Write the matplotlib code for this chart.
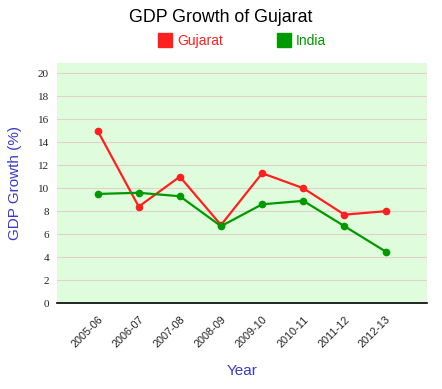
import numpy as np
import matplotlib
matplotlib.use('Agg')
import matplotlib.pyplot as plt
from matplotlib.patches import Rectangle

years = ['2005-06', '2006-07', '2007-08', '2008-09', '2009-10', '2010-11', '2011-12', '2012-13']
gujarat = [15.0, 8.4, 11.0, 6.8, 11.3, 10.0, 7.7, 8.0]
india = [9.5, 9.6, 9.3, 6.7, 8.6, 8.9, 6.7, 4.5]
yticks = list(range(0, 21, 2))

RED = '#ff1f1f'
GREEN = '#009900'
LABEL = '#3a3ac8'

fig = plt.figure(figsize=(4.42, 3.89), dpi=100)
ax = fig.add_axes([0.1296, 0.2203, 0.8358, 0.6185])
ax.set_facecolor('#dffcdc')

x = np.arange(len(years))
ax.plot(x, gujarat, color=RED, lw=1.6, marker='o', ms=4.5, zorder=3)
ax.plot(x, india, color=GREEN, lw=1.6, marker='o', ms=4.5, zorder=3)

ax.set_xlim(-0.98, 8.0)
ax.set_ylim(0, 20.9)
ax.set_yticks(yticks)
ax.set_yticklabels([str(v) for v in yticks], fontfamily='Liberation Serif', fontsize=8, color='#222222')
ax.set_xticks(x)
ax.set_xticklabels(years, rotation=45, ha='right', rotation_mode='anchor',
                   fontfamily='Liberation Sans', fontsize=7.8, color='#222222')
ax.tick_params(length=0, pad=6)
ax.tick_params(axis='x', pad=8)
ax.grid(axis='y', color='#e2d2cc', lw=0.8)
ax.set_axisbelow(True)
for s in ['top', 'right', 'left']:
    ax.spines[s].set_visible(False)
ax.spines['bottom'].set_color('black')
ax.spines['bottom'].set_linewidth(1.2)

ax.set_ylabel('GDP Growth (%)', fontfamily='Liberation Sans', fontsize=11, color=LABEL, labelpad=11)
ax.set_xlabel('Year', fontfamily='Liberation Sans', fontsize=11, color=LABEL, labelpad=10)

fig.text(0.5, 0.955, 'GDP Growth of Gujarat', ha='center', va='center',
         fontfamily='Liberation Sans', fontsize=12.8, color='black')

# legend
W, H = 442, 389
for x0, col, name in [(158, RED, 'Gujarat'), (277, GREEN, 'India')]:
    fig.patches.append(Rectangle((x0 / W, 1 - 47 / H), 14 / W, 14 / H,
                                 transform=fig.transFigure, color=col))
    fig.text((x0 + 19) / W, 1 - 41 / H, name, ha='left', va='center',
             fontfamily='Liberation Sans', fontsize=10, color=col)

fig.savefig('out.png', dpi=100)
